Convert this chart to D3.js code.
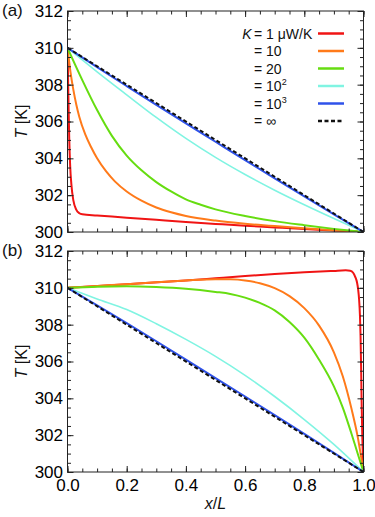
<!DOCTYPE html>
<html>
<head>
<meta charset="utf-8">
<script src="https://cdn.jsdelivr.net/npm/d3@7"></script>
<style>
  body { margin: 0; background: #fff; }
  svg { display: block; font-family: "Liberation Sans", Arial, sans-serif; }
</style>
</head>
<body>
<svg id="chart" width="375" height="517"></svg>
<script>
// Values, [x/L, T in K]
// Panel (a)
const redA = [[0, 310], [0.002, 308.3], [0.004, 306.5], [0.006, 305.0], [0.009, 303.6], [0.013, 302.6],
    [0.02, 301.7], [0.03, 301.2], [0.04, 301.02], [0.05, 300.96], [0.1, 300.9], [0.2, 300.78], [0.3, 300.66],
    [0.4, 300.54], [0.5, 300.44], [0.6, 300.34], [0.7, 300.25], [0.8, 300.16], [0.9, 300.08], [1, 300]]
const orangeA = [[0, 310], [0.01, 308.7], [0.02, 307.7], [0.03, 306.9], [0.04, 306.25], [0.06, 305.3],
    [0.08, 304.6], [0.1, 304.0], [0.13, 303.3], [0.16, 302.75], [0.2, 302.2], [0.25, 301.7], [0.3, 301.33],
    [0.35, 301.07], [0.4, 300.87], [0.5, 300.62], [0.6, 300.45], [0.7, 300.32], [0.8, 300.21], [0.9, 300.1],
    [1, 300]]
const greenA = [[0, 310], [0.05, 308.25], [0.1, 306.62], [0.15, 305.22], [0.2, 304.15], [0.25, 303.35],
    [0.3, 302.71], [0.35, 302.2], [0.4, 301.77], [0.45, 301.48], [0.5, 301.23], [0.6, 300.87], [0.7, 300.59],
    [0.8, 300.37], [0.9, 300.17], [1, 300]]
const cyanA = [[0, 310], [0.1, 308.7], [0.2, 307.45], [0.3, 306.22], [0.4, 305.08], [0.5, 304.05],
    [0.6, 303.12], [0.7, 302.27], [0.8, 301.48], [0.9, 300.73], [1, 300]]
const blueA = [[0, 310], [0.1, 308.95], [0.2, 307.92], [0.3, 306.9], [0.4, 305.9], [0.5, 304.9],
    [0.6, 303.9], [0.7, 302.91], [0.8, 301.93], [0.9, 300.96], [1, 300]]
const limitA = [[0, 310], [1, 300]]

// Panel (b)
const redB = [[0, 310], [0.2, 310.2], [0.4, 310.4], [0.5, 310.52], [0.6, 310.64], [0.7, 310.75],
    [0.8, 310.84], [0.9, 310.92], [0.94, 310.95], [0.955, 310.93], [0.965, 310.82], [0.972, 310.6],
    [0.978, 310.3], [0.982, 309.9], [0.985, 309.4], [0.988, 308.5], [0.99, 307.4], [0.992, 305.6],
    [0.994, 303.5], [0.996, 301.9], [0.998, 300.8], [1, 300]]
const orangeB = [[0, 310], [0.1, 310.1], [0.2, 310.2], [0.3, 310.3], [0.4, 310.4], [0.5, 310.47],
    [0.55, 310.46], [0.6, 310.4], [0.65, 310.25], [0.7, 309.98], [0.75, 309.55], [0.8, 308.9],
    [0.85, 307.95], [0.9, 306.5], [0.93, 305.2], [0.96, 303.4], [0.98, 301.95], [1, 300]]
const greenB = [[0, 310], [0.1, 310.06], [0.2, 310.08], [0.3, 310.04], [0.4, 309.95], [0.5, 309.78],
    [0.55, 309.67], [0.6, 309.47], [0.65, 309.18], [0.7, 308.78], [0.75, 308.15], [0.8, 307.3],
    [0.85, 306.1], [0.9, 304.65], [0.93, 303.5], [0.96, 302.05], [0.98, 301.02], [1, 300]]
const cyanB = [[0, 310], [0.1, 309.4], [0.2, 308.82], [0.3, 308.05], [0.4, 307.2], [0.5, 306.28],
    [0.6, 305.25], [0.7, 304.1], [0.8, 302.85], [0.9, 301.5], [1, 300]]
const blueB = [[0, 310], [0.1, 309.05], [0.2, 308.08], [0.3, 307.1], [0.4, 306.1], [0.5, 305.1],
    [0.6, 304.1], [0.7, 303.09], [0.8, 302.07], [0.9, 301.04], [1, 300]]
const limitB = [[0, 310], [1, 300]]

// Legend entries, one per conductance K
const legendLabels = [["1", " μW/K"], ["10", ""], ["20", ""], ["10", "2"], ["10", "3"], ["∞", ""]]
const colors = ["#f01414", "#ff7a1a", "#66dd11", "#80f4e2", "#2f52ea", "#111111"]
const widths = [2, 2, 2, 1.6, 2, 2]

// Tick values
const xTicks = [0, 0.2, 0.4, 0.6, 0.8, 1.0]
const yTicks = [300, 302, 304, 306, 308, 310, 312]

const svg = d3.select("#chart")

const x = d3.scaleLinear().domain([0, 1]).range([67.5, 363.5])

const panels = [
    {name: "(a)", top: 11, bottom: 232, series: [redA, orangeA, greenA, cyanA, blueA, limitA], xLabels: false},
    {name: "(b)", top: 251, bottom: 472, series: [redB, orangeB, greenB, cyanB, blueB, limitB], xLabels: true},
]

panels.forEach(function(p, pi) {
    const y = d3.scaleLinear().domain([300, 312]).range([p.bottom, p.top])
    const g = svg.append("g")

    // clip curves to the frame
    const clipId = "clip-" + pi
    svg.append("clipPath").attr("id", clipId)
        .append("rect")
        .attr("x", x(0)).attr("y", p.top)
        .attr("width", x(1) - x(0)).attr("height", p.bottom - p.top)

    const line = d3.line()
        .x(d => x(d[0]))
        .y(d => y(d[1]))
        .curve(d3.curveMonotoneX)

    const curves = g.append("g").attr("clip-path", `url(#${clipId})`)
    p.series.forEach(function(s, i) {
        curves.append("path")
            .datum(s)
            .attr("d", line)
            .attr("fill", "none")
            .attr("stroke", colors[i])
            .attr("stroke-width", widths[i])
            .attr("stroke-dasharray", i == 5 ? "4,2.5" : null)
    })

    // ticks point inward on all four sides, major and minor
    const xMinor = d3.range(0, 1.0001, 0.05)
    const yMinor = d3.range(300, 312.001, 0.5)

    const addAxis = function(axis, tx, ty) {
        const a = g.append("g")
            .attr("transform", `translate(${tx},${ty})`)
            .call(axis)
        a.select(".domain").remove()
        a.selectAll(".tick line").attr("stroke", "#222")
        a.selectAll("text")
            .attr("font-size", 17)
            .attr("fill", "#000")
            .attr("font-family", "Liberation Sans, Arial, sans-serif")
        return a
    }

    addAxis(d3.axisLeft(y).tickValues(yMinor).tickSize(-3.5).tickFormat(""), x(0), 0)
    addAxis(d3.axisRight(y).tickValues(yMinor).tickSize(-3.5).tickFormat(""), x(1), 0)
    addAxis(d3.axisLeft(y).tickValues(yTicks).tickSize(-6).tickPadding(4.5).tickFormat(d3.format("d")), x(0), 0)
    addAxis(d3.axisRight(y).tickValues(yTicks).tickSize(-6).tickFormat(""), x(1), 0)

    addAxis(d3.axisBottom(x).tickValues(xMinor).tickSize(-3.5).tickFormat(""), 0, p.bottom)
    addAxis(d3.axisTop(x).tickValues(xMinor).tickSize(-3.5).tickFormat(""), 0, p.top)
    addAxis(d3.axisBottom(x).tickValues(xTicks).tickSize(-6).tickPadding(7)
        .tickFormat(p.xLabels ? d3.format(".1f") : ""), 0, p.bottom)
    addAxis(d3.axisTop(x).tickValues(xTicks).tickSize(-6).tickFormat(""), 0, p.top)

    // frame
    g.append("rect")
        .attr("x", x(0)).attr("y", p.top)
        .attr("width", x(1) - x(0)).attr("height", p.bottom - p.top)
        .attr("fill", "none")
        .attr("stroke", "#222")
        .attr("stroke-width", 1)

    // panel letter
    g.append("text")
        .attr("x", 2).attr("y", p.top + 5)
        .attr("font-size", 17)
        .attr("fill", "#111")
        .text(p.name)

    // y label
    const yl = g.append("text")
        .attr("transform", `translate(27,${(p.top + p.bottom) / 2}) rotate(-90)`)
        .attr("text-anchor", "middle")
        .attr("font-size", 16)
        .attr("fill", "#111")
    yl.append("tspan").attr("font-style", "italic").text("T")
    yl.append("tspan").text(" [K]")
})

// x label
const xl = svg.append("text")
    .attr("x", (x(0) + x(1)) / 2).attr("y", 508.5)
    .attr("text-anchor", "middle")
    .attr("font-size", 16)
    .attr("fill", "#111")
xl.append("tspan").attr("font-style", "italic").text("x")
xl.append("tspan").text("/")
xl.append("tspan").attr("font-style", "italic").text("L")

// legend in panel (a)
const legend = svg.append("g").attr("font-size", 14).attr("fill", "#111")
legendLabels.forEach(function(lab, i) {
    const cy = 33.5 + i * 17.5
    if (i == 0) {
        legend.append("text")
            .attr("x", 251.5).attr("y", cy + 5)
            .attr("text-anchor", "end")
            .attr("font-style", "italic")
            .text("K")
    }
    const t = legend.append("text").attr("x", 254).attr("y", cy + 5)
    t.append("tspan").text("= " + lab[0])
    if (i == 3 || i == 4)
        t.append("tspan").attr("font-size", 9).attr("dy", -6).text(lab[1])
    else
        t.append("tspan").text(lab[1])

    legend.append("line")
        .attr("x1", 318).attr("x2", 344)
        .attr("y1", cy).attr("y2", cy)
        .attr("stroke", colors[i])
        .attr("stroke-width", 2.5)
        .attr("stroke-dasharray", i == 5 ? "4,2.5" : null)
})
</script>
</body>
</html>
